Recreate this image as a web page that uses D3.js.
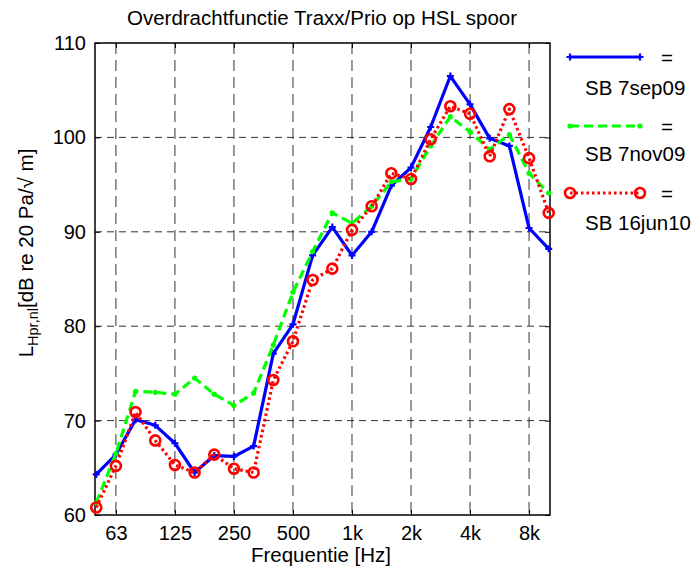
<!DOCTYPE html>
<html><head><meta charset="utf-8">
<script src="https://cdn.jsdelivr.net/npm/d3@7"></script>
<style>body{margin:0;background:#fff}svg{display:block}text{font-family:"Liberation Sans",Arial,Helvetica,sans-serif;fill:#000}</style>
</head><body><div id="chart"></div>
<script>
const bandCenters = [50,63,80,100,125,160,200,250,315,400,500,630,800,1000,1250,1600,2000,2500,3150,4000,5000,6300,8000,10000];
const tickValues = [63,125,250,500,1000,2000,4000,8000];
const tickLabels = ["63","125","250","500","1k","2k","4k","8k"];
const yTicks = [60,70,80,90,100,110];
const seriesNames = ["SB 7sep09","SB 7nov09","SB 16jun10"];
const sep09 = [64.3,66.4,70.1,69.5,67.6,64.5,66.3,66.2,67.3,77.1,80.2,87.5,90.5,87.5,90.0,94.9,96.8,101.1,106.5,103.5,99.9,99.1,90.4,88.2];
const nov09 = [61.3,66.5,73.1,73.0,72.8,74.5,72.8,71.6,72.9,78.0,83.6,87.9,92.0,90.9,92.7,95.3,95.6,99.1,102.2,100.6,98.7,100.3,96.2,94.1];
const jun10 = [60.8,65.2,70.9,67.9,65.3,64.5,66.4,64.9,64.5,74.3,78.4,84.9,86.1,90.2,92.7,96.2,95.6,99.8,103.3,102.5,98.0,103.0,97.8,92.0];

const W=694,H=569;
const L=95,T=43,R=550,B=515;
const exact = f => Math.pow(10, Math.round(Math.log10(f)*10)/10);
const x = d3.scaleLog().domain([49.4,10150]).range([L,R]);
const y = d3.scaleLinear().domain([60,110]).range([B,T]);

const svg = d3.select("#chart").append("svg").attr("width",W).attr("height",H);

// grid
svg.append("g").selectAll("line").data(tickValues).join("line")
  .attr("x1",d=>x(exact(d))).attr("x2",d=>x(exact(d))).attr("y1",T).attr("y2",B)
  .attr("stroke","#333").attr("stroke-width",1).attr("stroke-dasharray","11,6");
svg.append("g").selectAll("line").data(yTicks.slice(1,-1)).join("line")
  .attr("x1",L).attr("x2",R).attr("y1",d=>y(d)).attr("y2",d=>y(d))
  .attr("stroke","#333").attr("stroke-width",1).attr("stroke-dasharray","7,5");

// axes
const xAxis = d3.axisBottom(x).tickValues(tickValues.map(exact)).tickFormat((d,i)=>tickLabels[i]).tickSizeInner(-5).tickSizeOuter(0).tickPadding(11);
svg.append("g").attr("transform",`translate(0,${B})`).call(xAxis);
const yAxis = d3.axisLeft(y).tickValues(yTicks).tickSizeInner(-5).tickSizeOuter(0).tickPadding(9);
svg.append("g").attr("transform",`translate(${L},0)`).call(yAxis);
svg.append("g").attr("transform",`translate(0,${T})`).call(d3.axisTop(x).tickValues(tickValues.map(exact)).tickFormat("").tickSizeInner(-5).tickSizeOuter(0));
svg.append("g").attr("transform",`translate(${R},0)`).call(d3.axisRight(y).tickValues(yTicks).tickFormat("").tickSizeInner(-5).tickSizeOuter(0));
svg.selectAll(".domain").remove();
svg.selectAll(".tick line").attr("stroke","#000");
svg.selectAll(".tick text").attr("font-size",20).attr("font-family",'"Liberation Sans",Arial,sans-serif');
svg.append("rect").attr("x",L).attr("y",T).attr("width",R-L).attr("height",B-T).attr("fill","none").attr("stroke","#000").attr("stroke-width",1.5);

// series
const series = [
  {name:seriesNames[0], vals:sep09, color:"#0000ff", dash:null, marker:"plus"},
  {name:seriesNames[1], vals:nov09, color:"#00ff00", dash:"9,5", marker:"dot"},
  {name:seriesNames[2], vals:jun10, color:"#ff0000", dash:"2.5,3", marker:"circle"}
];
const line = d3.line().x(d=>x(exact(d.f))).y(d=>y(d.v));
function drawMarker(g, m, color){
  if(m==="plus"){
    g.append("path").attr("d","M-3.5,0H3.5M0,-3.5V3.5").attr("stroke",color).attr("stroke-width",2.2).attr("fill","none");
  } else if(m==="dot"){
    g.append("circle").attr("r",2.6).attr("fill",color);
  } else {
    g.append("circle").attr("r",5).attr("fill","none").attr("stroke",color).attr("stroke-width",2.6);
  }
}
series.forEach(s=>{
  const pts = bandCenters.map((f,i)=>({f:f,v:s.vals[i]}));
  const p = svg.append("path").datum(pts).attr("d",line).attr("fill","none")
    .attr("stroke",s.color).attr("stroke-width",3.2).attr("stroke-linejoin","round");
  if(s.dash) p.attr("stroke-dasharray",s.dash);
  pts.forEach(d=>{
    const g = svg.append("g").attr("transform",`translate(${x(exact(d.f))},${y(d.v)})`);
    drawMarker(g,s.marker,s.color);
  });
});

// legend
const legY = [57,126,193];
const legTextY = [95,161,230];
series.forEach((s,i)=>{
  const lg = svg.append("g");
  const l = lg.append("line").attr("x1",570).attr("x2",640).attr("y1",legY[i]).attr("y2",legY[i])
    .attr("stroke",s.color).attr("stroke-width",3.2);
  if(s.dash) l.attr("stroke-dasharray",s.dash);
  [570,640].forEach(px=>{
    const g = lg.append("g").attr("transform",`translate(${px},${legY[i]})`);
    drawMarker(g,s.marker,s.color);
  });
  lg.append("text").attr("x",661).attr("y",legY[i]+8).attr("font-size",20.5).text("=");
  lg.append("text").attr("x",585).attr("y",legTextY[i]).attr("font-size",20.5).text(s.name);
});

// title & labels
svg.append("text").attr("x",322).attr("y",25).attr("text-anchor","middle").attr("font-size",20.5)
  .text("Overdrachtfunctie Traxx/Prio op HSL spoor");
svg.append("text").attr("x",321).attr("y",562).attr("text-anchor","middle").attr("font-size",20.5)
  .text("Frequentie [Hz]");
const yl = svg.append("text").attr("transform",`translate(33,253) rotate(-90)`).attr("text-anchor","middle").attr("font-size",20.5);
yl.append("tspan").text("L");
yl.append("tspan").attr("font-size",14.5).attr("dy",5).text("Hpr,nl");
yl.append("tspan").attr("dy",-5).text("[dB re 20 Pa/\u221A m]");
</script></body></html>
